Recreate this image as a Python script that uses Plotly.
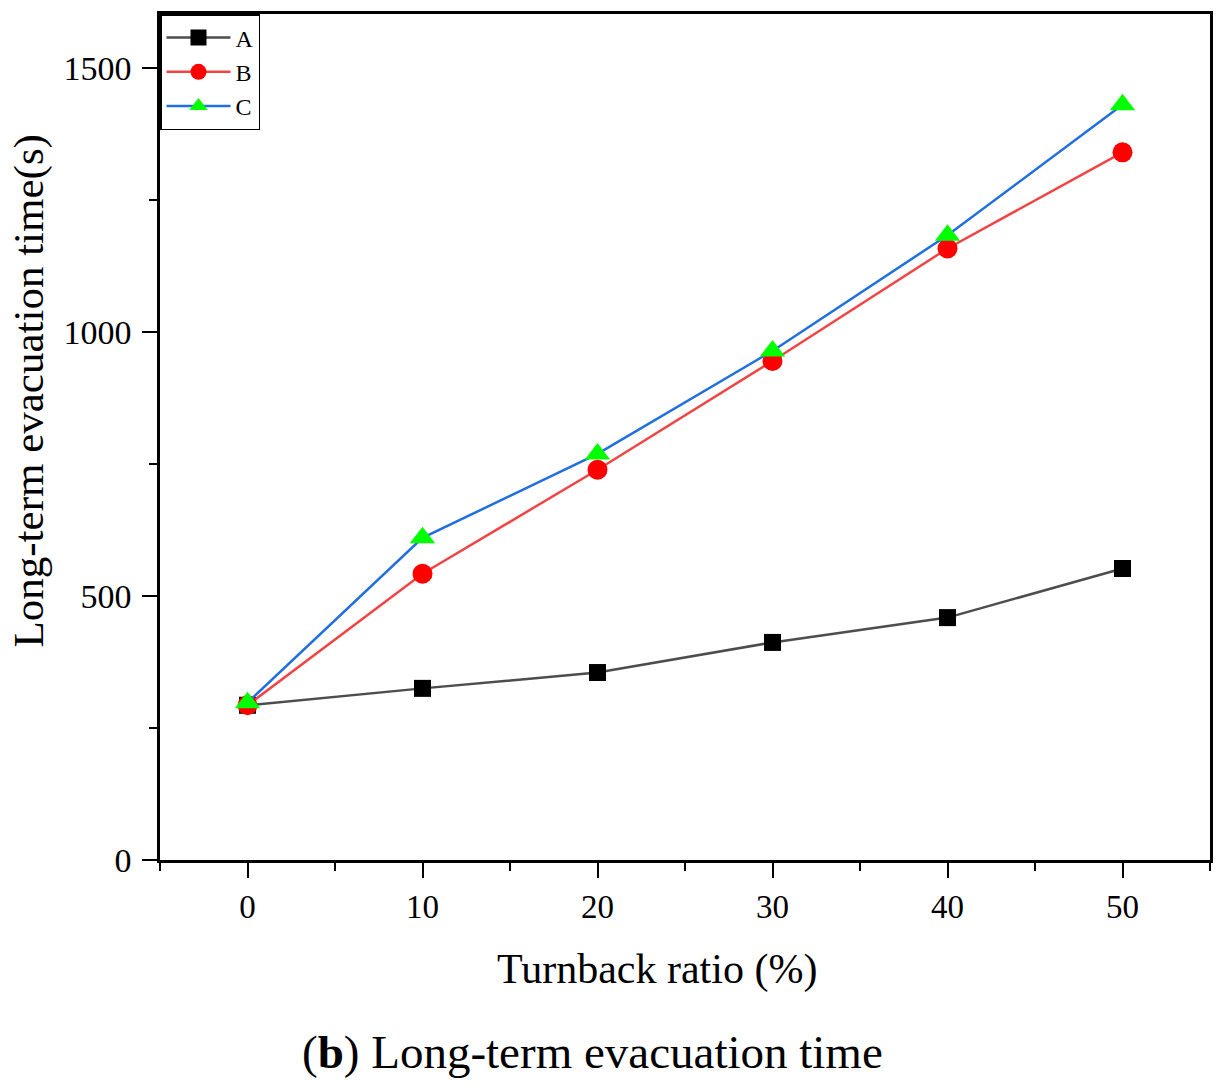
import plotly.graph_objects as go

x_vals = [0, 10, 20, 30, 40, 50]
series_A = [293, 325, 355, 412, 459, 552]
series_B = [293, 542, 739, 945, 1158, 1340]
series_C = [298, 610, 769, 964, 1183, 1430]
names = ["A", "B", "C"]
line_colors = ["#4d4d4d", "#f04545", "#1f6fe0"]
marker_colors = ["#000000", "#ff0000", "#00ff00"]
symbols = ["square", "circle", "triangle-up"]
msizes = [17, 20, 22]
x_ticks = [0, 10, 20, 30, 40, 50]
y_ticks = [0, 500, 1000, 1500]

fig = go.Figure()
for name, ys, lc, mc, sym, ms in zip(names, [series_A, series_B, series_C],
                                      line_colors, marker_colors, symbols, msizes):
    fig.add_trace(go.Scatter(
        x=x_vals, y=ys, name=name, mode="lines+markers",
        line=dict(color=lc, width=2.5),
        marker=dict(color=mc, symbol=sym, size=ms, line=dict(width=0)),
    ))

font_serif = "Liberation Serif"
fig.update_layout(
    width=1224, height=1089,
    margin=dict(l=160, r=11, t=12, b=229),
    paper_bgcolor="white", plot_bgcolor="white",
    showlegend=True,
    legend=dict(
        x=0, y=1, xanchor="left", yanchor="top",
        bordercolor="black", borderwidth=1.5, bgcolor="white",
        font=dict(family=font_serif, size=24, color="black"),
        itemsizing="trace", itemwidth=64, tracegroupgap=0,
    ),
    xaxis=dict(
        range=[-5, 55], tickvals=x_ticks, ticktext=[str(v) for v in x_ticks],
        ticks="outside", ticklen=15, tickwidth=2, tickcolor="black",
        minor=dict(dtick=5, tick0=5, ticks="outside", ticklen=8, tickwidth=2, tickcolor="black"),
        showline=True, linecolor="black", linewidth=2.5, mirror=True,
        showgrid=False, zeroline=False,
        tickfont=dict(family=font_serif, size=33, color="black"),
        ticklabelstandoff=1,
    ),
    yaxis=dict(
        range=[0, 1602], tickvals=y_ticks, ticktext=[str(v) for v in y_ticks],
        ticks="outside", ticklen=15, tickwidth=2, tickcolor="black",
        minor=dict(dtick=250, tick0=250, ticks="outside", ticklen=8, tickwidth=2, tickcolor="black"),
        showline=True, linecolor="black", linewidth=2.5, mirror=True,
        showgrid=False, zeroline=False,
        tickfont=dict(family=font_serif, size=34, color="black"),
        ticklabelstandoff=4,
    ),
)

# axis titles as annotations (placed like the reference)
fig.add_annotation(
    text="Turnback ratio (%)", xref="paper", yref="paper",
    x=(658 - 160) / 1053, y=-(970 - 860) / 848, xanchor="center", yanchor="middle",
    showarrow=False, font=dict(family=font_serif, size=42, color="black"),
)
fig.add_annotation(
    text="Long-term evacuation time(s)", xref="paper", yref="paper",
    x=(29 - 160) / 1053, y=(860 - 390) / 848, xanchor="center", yanchor="middle",
    textangle=-90,
    showarrow=False, font=dict(family=font_serif, size=43, color="black"),
)
fig.add_annotation(
    text="(<b>b</b>) Long-term evacuation time",
    xref="paper", yref="paper", x=(594 - 160) / 1053, y=-(1052 - 860) / 848,
    xanchor="center", yanchor="middle",
    showarrow=False, font=dict(family=font_serif, size=47, color="black"),
)

fig.write_html("out.html")
